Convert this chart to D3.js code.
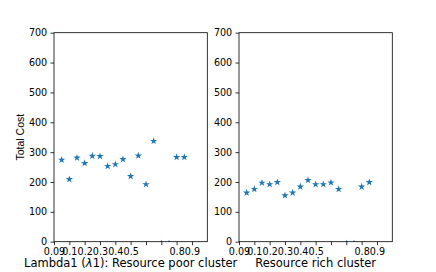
<!DOCTYPE html>
<html>
<head>
<meta charset="utf-8">
<script src="https://cdn.jsdelivr.net/npm/d3@7"></script>
<style>
  body { margin: 0; background: #fff; }
  svg text { font-family: "DejaVu Sans", sans-serif; fill: #000; }
</style>
</head>
<body>
<svg></svg>
<script>
const width = 436;
const height = 272;

// Data
const lambdas = [0.05, 0.1, 0.15, 0.2, 0.25, 0.3, 0.35, 0.4, 0.45, 0.5, 0.55, 0.6, 0.65, 0.7, 0.75, 0.8, 0.85];
const poorCost = [274, 209, 281, 263, 287, 286, 253, 259, 276, 219, 288, 192, 337, -6, -6, 283, 283];
const richCost = [164, 176, 197, 192, 199, 155, 164, 184, 206, 192, 192, 198, 176, -6, -6, 184, 199];
const xTicks = [0, 0.1, 0.2, 0.3, 0.4, 0.5, 0.6, 0.7, 0.8, 0.9];
const xTickLabels = ["0.09", "0.1", "0.2", "0.3", "0.4", "0.5", "", "", "0.8", "0.9"];
const yTicks = [0, 100, 200, 300, 400, 500, 600, 700];

const svg = d3.select("svg")
  .attr("width", width)
  .attr("height", height);

const plotTop = 32.7, plotBottom = 241.7;
const y = d3.scaleLinear().domain([0, 700]).range([plotBottom, plotTop]);

const panels = [
  { x0: 54, x1: 207.3, values: poorCost, id: "c0" },
  { x0: 239, x1: 392.3, values: richCost, id: "c1" }
];

panels.forEach(p => {
  const x = d3.scaleLinear().domain([0, 1]).range([p.x0, p.x1]);
  const g = svg.append("g");

  // clip
  svg.append("clipPath").attr("id", p.id)
    .append("rect")
    .attr("x", p.x0).attr("y", plotTop)
    .attr("width", p.x1 - p.x0).attr("height", plotBottom - plotTop);

  // Pontos
  g.append("g")
    .attr("clip-path", `url(#${p.id})`)
    .selectAll("path")
    .data(lambdas.map((l, i) => [l, p.values[i]]))
    .join("path")
    .attr("d", d3.symbol().type(d3.symbolStar).size(17))
    .attr("transform", d => `translate(${x(d[0])},${y(d[1])})`)
    .attr("fill", "#1f77b4");

  // Eixos
  const yAxis = g.append("g")
    .attr("transform", `translate(${p.x0},0)`)
    .call(d3.axisLeft(y).tickValues(yTicks).tickSize(3.5).tickPadding(3.3).tickSizeOuter(0));

  const xAxis = g.append("g")
    .attr("transform", `translate(0,${plotBottom})`)
    .call(d3.axisBottom(x).tickValues(xTicks)
      .tickFormat((d, i) => xTickLabels[i])
      .tickSize(3.5).tickPadding(3.3).tickSizeOuter(0));

  [yAxis, xAxis].forEach(a => {
    a.select(".domain").remove();
    a.selectAll("line").attr("stroke", "#000").attr("stroke-width", 0.8);
    a.selectAll("text").attr("font-size", "9.6px").attr("fill", "#000");
  });

  // Moldura
  g.append("rect")
    .attr("x", p.x0).attr("y", plotTop)
    .attr("width", p.x1 - p.x0).attr("height", plotBottom - plotTop)
    .attr("fill", "none")
    .attr("stroke", "#000")
    .attr("stroke-width", 0.8);
});

// Labels
const xl1 = svg.append("text")
  .attr("x", (54 + 207.3) / 2)
  .attr("y", 267)
  .attr("text-anchor", "middle")
  .attr("font-size", "11.5px");
xl1.append("tspan").text("Lambda1 (");
xl1.append("tspan").attr("font-style", "italic").text("λ");
xl1.append("tspan").text("1): Resource poor cluster");

svg.append("text")
  .attr("x", (239 + 392.3) / 2)
  .attr("y", 267)
  .attr("text-anchor", "middle")
  .attr("font-size", "11.5px")
  .text("Resource rich cluster");

svg.append("text")
  .attr("transform", `translate(23.5,${(plotTop + plotBottom) / 2}) rotate(-90)`)
  .attr("text-anchor", "middle")
  .attr("font-size", "10.5px")
  .style("font-family", "'Liberation Sans', Arial, sans-serif")
  .text("Total Cost");
</script>
</body>
</html>
